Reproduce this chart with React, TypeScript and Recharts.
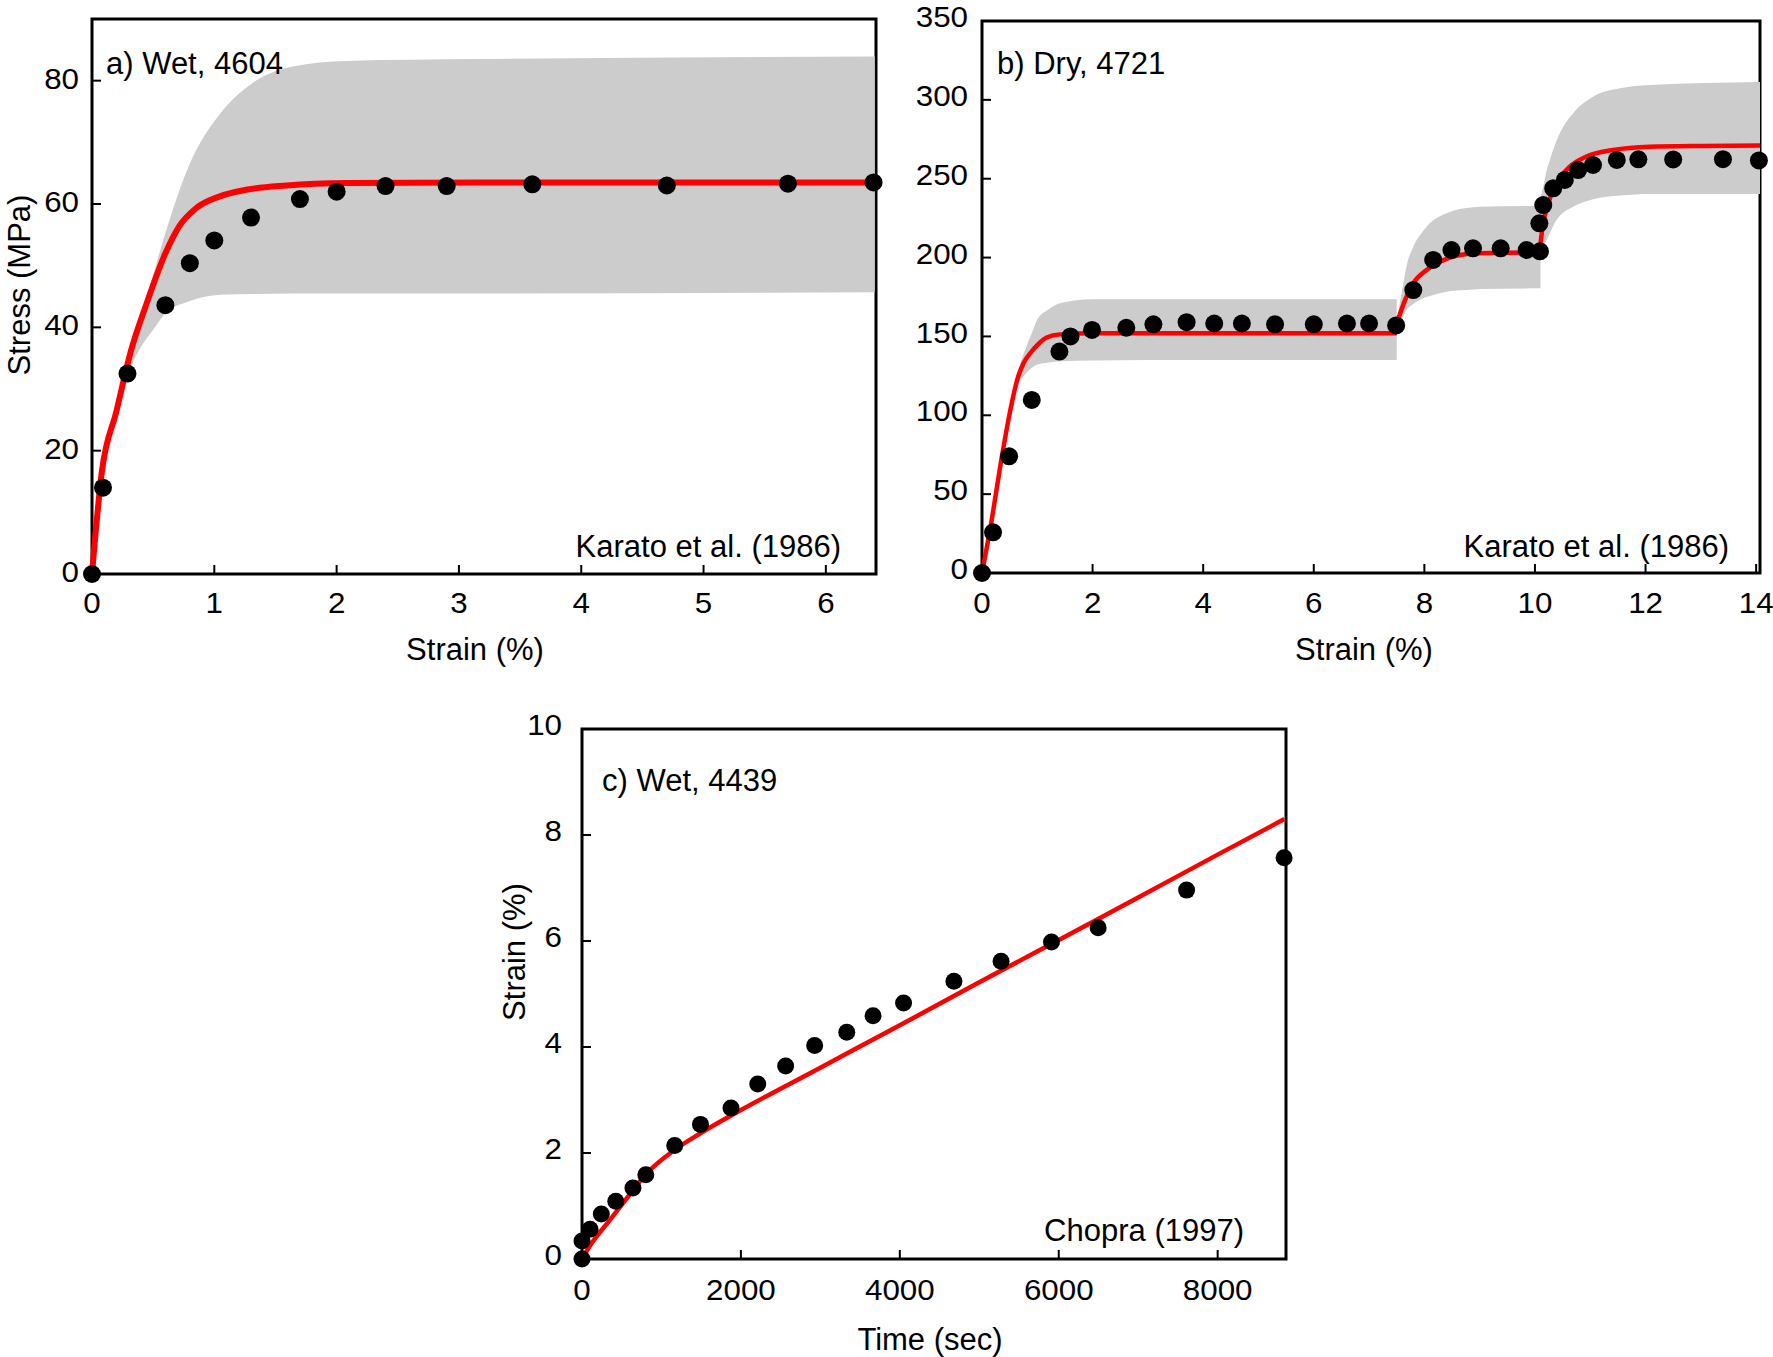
import React from 'react';
import { ComposedChart, Area, Line, Scatter, XAxis, YAxis, ReferenceArea } from 'recharts';

// a) Wet, 4604 - Karato et al. (1986)
const aDotStrain = [0, 0.09, 0.29, 0.6, 0.8, 1.0, 1.3, 1.7, 2.0, 2.4, 2.9, 3.6, 4.7, 5.69, 6.39];
const aDotStress = [0, 14.0, 32.5, 43.6, 50.4, 54.1, 57.8, 60.8, 62.0, 62.9, 62.9, 63.2, 63.0, 63.3, 63.5];
const aFitStrain = [0, 0.08, 0.2, 0.32, 0.44, 0.6, 0.71, 0.85, 1.04, 1.26, 1.59, 2.08, 3.17, 6.4];
const aFitStress = [0, 16.5, 26.4, 36.3, 43.5, 52.0, 56.3, 59.3, 61.2, 62.3, 63.0, 63.4, 63.5, 63.5];
const aBandStrain = [0.28, 0.385, 0.5, 0.6, 0.79, 1.05, 1.31, 1.64, 2.08, 3.17, 6.4];
const aBandLow = [32.0, 36.3, 39.6, 42.3, 44.2, 45.3, 45.4, 45.5, 45.5, 45.5, 45.7];
const aBandHigh = [33.0, 41.0, 48.5, 55.3, 66.1, 74.7, 79.6, 82.3, 83.2, 83.5, 83.9];
const aXTicks = [0, 1, 2, 3, 4, 5, 6];
const aYTicks = [0, 20, 40, 60, 80];

// b) Dry, 4721 - Karato et al. (1986)
const bDotStrain = [0, 0.2, 0.49, 0.9, 1.4, 1.6, 1.99, 2.61, 3.1, 3.7, 4.2, 4.7, 5.3, 6.0, 6.6, 7.0, 7.49,
  7.8, 8.16, 8.49, 8.88, 9.38, 9.85, 10.09, 10.08, 10.15, 10.33, 10.54, 10.78, 11.05, 11.48, 11.87, 12.5, 13.4, 14.05];
const bDotStress = [0, 25.8, 74.0, 109.7, 140.4, 150.0, 154.1, 155.5, 157.7, 159.0, 158.2, 158.2, 157.7, 157.7, 158.2, 158.2, 157.0,
  179.4, 198.5, 204.8, 205.9, 205.9, 204.8, 204.0, 221.7, 233.3, 243.9, 249.2, 255.5, 258.7, 261.9, 262.3, 262.2, 262.4, 261.6];
const bFit1Strain = [0, 0.175, 0.36, 0.54, 0.64, 0.75, 0.9, 1.0, 1.17, 1.41, 2.0, 4.0, 7.5];
const bFit1Stress = [0, 33.6, 74, 108, 123, 133, 140.5, 144.5, 149.3, 151.3, 152, 152, 152];
const bFit2Strain = [7.5, 7.65, 7.8, 8.04, 8.28, 8.58, 9.0, 10.03, 10.08];
const bFit2Stress = [158, 173, 183.7, 192.1, 197.4, 201.2, 202.7, 203.3, 203.5];
const bFit3Strain = [10.08, 10.15, 10.24, 10.39, 10.63, 10.93, 11.41, 12.08, 13.0, 14.07];
const bFit3Stress = [203.5, 221.7, 234.4, 247.1, 257.6, 264, 268.2, 270.3, 270.8, 271];
const bBand1Strain = [0.58, 0.65, 0.78, 0.9, 0.99, 1.2, 1.41, 2.0, 4.0, 7.5];
const bBand1Low = [112, 119, 126, 130, 132, 133.5, 134.3, 134.8, 135, 135];
const bBand1High = [114, 127, 141.4, 152, 160, 167, 171, 173.5, 173.5, 173.5];
const bBand2Strain = [7.5, 7.62, 7.68, 7.8, 7.98, 8.04, 8.4, 8.88, 9.0, 10.1];
const bBand2Low = [156, 163, 166.8, 170.5, 174.2, 175, 178.4, 179.8, 180.1, 180.5];
const bBand2High = [160, 183.7, 195, 206.9, 217, 219.6, 228.1, 231.9, 232.2, 232.7];
const bBand3Strain = [10.1, 10.15, 10.21, 10.27, 10.39, 10.45, 10.69, 11.05, 11.54, 12.08, 14.07];
const bBand3Low = [203.5, 207, 211.1, 215.5, 223.8, 226.5, 232.3, 237, 239.3, 240.3, 240.3];
const bBand3High = [238, 245, 255, 261.9, 274, 278.8, 291.5, 302, 307.3, 309.4, 311.3];
const bXTicks = [0, 2, 4, 6, 8, 10, 12, 14];
const bYTicks = [0, 50, 100, 150, 200, 250, 300, 350];

// c) Wet, 4439 - Chopra (1997)
const cDotTime = [0, 0, 101, 243, 425, 641, 803, 1167, 1491, 1875, 2212, 2563, 2928, 3332, 3663, 4047, 4681, 5274, 5909, 6496, 7609, 8836];
const cDotStrain = [0, 0.34, 0.56, 0.85, 1.09, 1.34, 1.59, 2.14, 2.54, 2.85, 3.30, 3.64, 4.03, 4.28, 4.59, 4.83, 5.24, 5.62, 5.98, 6.25, 6.96, 7.57];
const cFitTime = [0, 100, 352, 550, 803, 1167, 1500, 2000, 3000, 4000, 5000, 6000, 7000, 8000, 8840];
const cFitStrain = [0, 0.25, 0.74, 1.12, 1.6, 2.06, 2.38, 2.81, 3.61, 4.41, 5.22, 6.02, 6.82, 7.63, 8.30];
const cXTicks = [0, 2000, 4000, 6000, 8000];
const cYTicks = [0, 2, 4, 6, 8, 10];

const zip = (xs: number[], ys: number[]) => xs.map((x, i) => ({ x, y: ys[i] }));
const band = (xs: number[], lo: number[], hi: number[]) => xs.map((x, i) => ({ x, range: [lo[i], hi[i]] }));

const FONT = '"Liberation Sans", Arial, Helvetica, sans-serif';
const PAD_L = 90;
const PAD_T = 20;
const PAD_R = 13;
const PAD_B = 60;
const GREY = '#cccccc';
const RED = '#ff0000';
const TICK_FS = 29;
const TICK_SX = 1.08;

function Panel({ left, top, width, height, xDomain, yDomain, xTicks, yTicks, yLabelRight, yLabelDy, xLabelDy, children }: any) {
  const bottom = PAD_T + height;
  const labelX = yLabelRight - (left - PAD_L);

  const xTick = (p: any) => (
    <g>
      <line x1={p.x} x2={p.x} y1={bottom} y2={bottom - 9} stroke="#000" strokeWidth={2} />
      <text transform={`translate(${p.x} ${bottom + xLabelDy}) scale(${TICK_SX} 1)`} textAnchor="middle"
        dominantBaseline="central" fontSize={TICK_FS} fontFamily={FONT} fill="#000">{p.payload.value}</text>
    </g>
  );
  const yTick = (p: any) => (
    <g>
      <line x1={PAD_L} x2={PAD_L + 9} y1={p.y} y2={p.y} stroke="#000" strokeWidth={2} />
      <text transform={`translate(${labelX} ${p.y + yLabelDy}) scale(${TICK_SX} 1)`} textAnchor="end"
        dominantBaseline="central" fontSize={TICK_FS} fontFamily={FONT} fill="#000">{p.payload.value}</text>
    </g>
  );

  return (
    <div style={{ position: 'absolute', left: left - PAD_L, top: top - PAD_T }}>
      <ComposedChart width={width + PAD_L + PAD_R} height={height + PAD_T + PAD_B}
        margin={{ top: PAD_T, right: PAD_R, bottom: 0, left: 0 }}>
        <XAxis type="number" dataKey="x" domain={xDomain} ticks={xTicks} tick={xTick} interval={0}
          tickLine={false} axisLine={false} height={PAD_B} />
        <YAxis type="number" domain={yDomain} ticks={yTicks} tick={yTick} interval={0}
          tickLine={false} axisLine={false} width={PAD_L} />
        <ReferenceArea x1={xDomain[0]} x2={xDomain[1]} y1={yDomain[0]} y2={yDomain[1]}
          fill="none" stroke="#000" strokeWidth={3} />
        {children}
      </ComposedChart>
    </div>
  );
}

const dot = (r: number) => (p: any) => <circle cx={p.cx} cy={p.cy} r={r} fill="#000" />;

export default function App() {
  return (
    <div style={{ position: 'absolute', left: 0, top: 0, width: 1773, height: 1357, background: '#fff', overflow: 'hidden' }}>
      <Panel left={92} top={19} width={784} height={555} xDomain={[0, 6.41]} yDomain={[0, 90]}
        xTicks={aXTicks} yTicks={aYTicks} yLabelRight={79} yLabelDy={-2} xLabelDy={29}>
        <Area data={band(aBandStrain, aBandLow, aBandHigh)} dataKey="range" type="monotone"
          fill={GREY} fillOpacity={1} stroke="none" isAnimationActive={false} />
        <Line data={zip(aFitStrain, aFitStress)} dataKey="y" type="monotone" stroke={RED} strokeWidth={6}
          dot={false} activeDot={false} isAnimationActive={false} />
        <Scatter data={zip(aDotStrain, aDotStress)} dataKey="y" shape={dot(9)} isAnimationActive={false} />
      </Panel>

      <Panel left={982} top={21} width={778} height={552} xDomain={[0, 14.07]} yDomain={[0, 350]}
        xTicks={bXTicks} yTicks={bYTicks} yLabelRight={968} yLabelDy={-4} xLabelDy={30}>
        <Area data={band(bBand1Strain, bBand1Low, bBand1High)} dataKey="range" type="monotone"
          fill={GREY} fillOpacity={1} stroke="none" isAnimationActive={false} />
        <Area data={band(bBand2Strain, bBand2Low, bBand2High)} dataKey="range" type="monotone"
          fill={GREY} fillOpacity={1} stroke="none" isAnimationActive={false} />
        <Area data={band(bBand3Strain, bBand3Low, bBand3High)} dataKey="range" type="monotone"
          fill={GREY} fillOpacity={1} stroke="none" isAnimationActive={false} />
        <Scatter data={zip(bDotStrain, bDotStress)} dataKey="y" shape={dot(9)} isAnimationActive={false} />
        <Line data={zip(bFit1Strain, bFit1Stress)} dataKey="y" type="monotone" stroke={RED} strokeWidth={4.5}
          dot={false} activeDot={false} isAnimationActive={false} />
        <Line data={zip(bFit2Strain, bFit2Stress)} dataKey="y" type="monotone" stroke={RED} strokeWidth={4.5}
          dot={false} activeDot={false} isAnimationActive={false} />
        <Line data={zip(bFit3Strain, bFit3Stress)} dataKey="y" type="monotone" stroke={RED} strokeWidth={4.5}
          dot={false} activeDot={false} isAnimationActive={false} />
      </Panel>

      <Panel left={582} top={729} width={704} height={530} xDomain={[0, 8860]} yDomain={[0, 10]}
        xTicks={cXTicks} yTicks={cYTicks} yLabelRight={562} yLabelDy={-4} xLabelDy={31}>
        <Scatter data={zip(cDotTime, cDotStrain)} dataKey="y" shape={dot(8.5)} isAnimationActive={false} />
        <Line data={zip(cFitTime, cFitStrain)} dataKey="y" type="monotone" stroke={RED} strokeWidth={4.5}
          dot={false} activeDot={false} isAnimationActive={false} />
      </Panel>

      <svg width={1773} height={1357} style={{ position: 'absolute', left: 0, top: 0, pointerEvents: 'none' }}
        fontFamily={FONT} fill="#000">
        <text x={106} y={74} fontSize={31}>a) Wet, 4604</text>
        <text x={841} y={557} fontSize={31} textAnchor="end">Karato et al. (1986)</text>
        <text x={475} y={660} fontSize={31} textAnchor="middle">Strain (%)</text>
        <text x={30} y={285} fontSize={31} textAnchor="middle" transform="rotate(-90 30 285)">Stress (MPa)</text>

        <text x={997} y={74} fontSize={31}>b) Dry, 4721</text>
        <text x={1729} y={557} fontSize={31} textAnchor="end">Karato et al. (1986)</text>
        <text x={1364} y={660} fontSize={31} textAnchor="middle">Strain (%)</text>

        <text x={602} y={791} fontSize={31}>c) Wet, 4439</text>
        <text x={1244} y={1241} fontSize={31} textAnchor="end">Chopra (1997)</text>
        <text x={930} y={1350} fontSize={31} textAnchor="middle">Time (sec)</text>
        <text x={525} y={952} fontSize={31} textAnchor="middle" transform="rotate(-90 525 952)">Strain (%)</text>
      </svg>
    </div>
  );
}
